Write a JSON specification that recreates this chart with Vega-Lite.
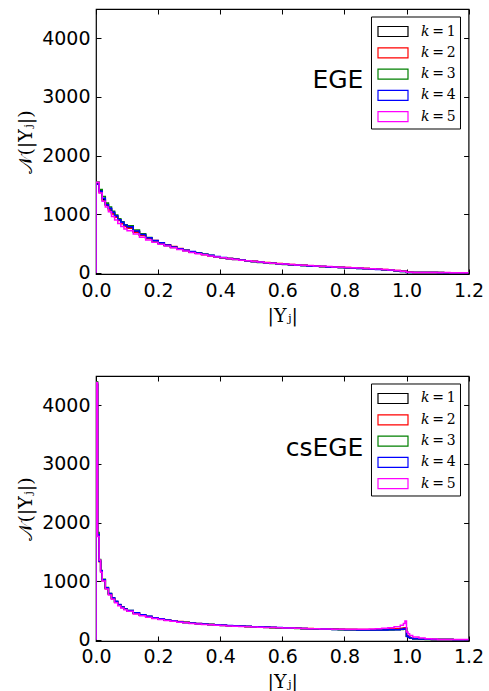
{
  "$schema": "https://vega.github.io/schema/vega-lite/v6.json",
  "padding": {"left": 16, "top": 7, "right": 5, "bottom": 5},
  "background": "white",
  "bounds": "flush",
  "spacing": 102,
  "config": {
    "view": {"stroke": "black", "strokeWidth": 1.2},
    "axis": {
      "domain": false, "grid": false, "tickColor": "black", "tickSize": -5, "tickWidth": 1,
      "labelFont": "DejaVu Sans", "labelFontSize": 19, "labelColor": "black", "labelPadding": 11,
      "labelOverlap": false, "labelFlush": false,
      "titleFont": "DejaVu Serif", "titleFontSize": 19, "titleFontWeight": "normal", "titleColor": "black", "titlePadding": 6
    },
    "axisBottom": {"labelPadding": 12},
    "legend": {
      "orient": "none", "legendX": 275, "legendY": 7.5,
      "strokeColor": "black", "fillColor": "white", "padding": 4,
      "symbolType": "M-0.8,-0.5H2.2V0.5H-0.8Z", "symbolSize": 400, "symbolStrokeWidth": 1.2,
      "symbolFillColor": "transparent", "labelFont": "DejaVu Serif", "labelFontSize": 14,
      "labelColor": "black", "labelOffset": 24, "rowPadding": 2.3
    }
  },
  "datasets": {
    "ege": [
      {"x": 0, "k1": 0, "k2": 0, "k3": 0, "k4": 0, "k5": 0},
      {"x": 0.0, "k1": 1520, "k2": 1535, "k3": 1550, "k4": 1510, "k5": 1545},
      {"x": 0.01, "k1": 1400, "k2": 1370, "k3": 1420, "k4": 1390, "k5": 1360},
      {"x": 0.02, "k1": 1250, "k2": 1230, "k3": 1300, "k4": 1270, "k5": 1220},
      {"x": 0.03, "k1": 1170, "k2": 1150, "k3": 1190, "k4": 1160, "k5": 1120},
      {"x": 0.04, "k1": 1090, "k2": 1070, "k3": 1120, "k4": 1100, "k5": 1040},
      {"x": 0.05, "k1": 1020, "k2": 1000, "k3": 1050, "k4": 1030, "k5": 960},
      {"x": 0.06, "k1": 960, "k2": 945, "k3": 985, "k4": 970, "k5": 900},
      {"x": 0.07, "k1": 900, "k2": 890, "k3": 920, "k4": 905, "k5": 840},
      {"x": 0.08, "k1": 850, "k2": 835, "k3": 870, "k4": 860, "k5": 790},
      {"x": 0.09, "k1": 805, "k2": 790, "k3": 820, "k4": 815, "k5": 745},
      {"x": 0.10, "k1": 770, "k2": 760, "k3": 800, "k4": 785, "k5": 715},
      {"x": 0.12, "k1": 700, "k2": 690, "k3": 730, "k4": 710, "k5": 660},
      {"x": 0.14, "k1": 640, "k2": 635, "k3": 665, "k4": 650, "k5": 605},
      {"x": 0.16, "k1": 590, "k2": 585, "k3": 600, "k4": 595, "k5": 560},
      {"x": 0.18, "k1": 545, "k2": 548, "k3": 535, "k4": 550, "k5": 520},
      {"x": 0.20, "k1": 505, "k2": 510, "k3": 495, "k4": 512, "k5": 485},
      {"x": 0.22, "k1": 470, "k2": 478, "k3": 462, "k4": 475, "k5": 455},
      {"x": 0.24, "k1": 437, "k2": 446, "k3": 430, "k4": 440, "k5": 425},
      {"x": 0.26, "k1": 407, "k2": 415, "k3": 402, "k4": 410, "k5": 396},
      {"x": 0.28, "k1": 380, "k2": 385, "k3": 377, "k4": 383, "k5": 370},
      {"x": 0.30, "k1": 355, "k2": 352, "k3": 357, "k4": 360, "k5": 346},
      {"x": 0.32, "k1": 332, "k2": 330, "k3": 335, "k4": 338, "k5": 325},
      {"x": 0.34, "k1": 311, "k2": 309, "k3": 313, "k4": 316, "k5": 305},
      {"x": 0.36, "k1": 292, "k2": 290, "k3": 294, "k4": 296, "k5": 287},
      {"x": 0.38, "k1": 274, "k2": 272, "k3": 270, "k4": 278, "k5": 270},
      {"x": 0.40, "k1": 257, "k2": 255, "k3": 253, "k4": 260, "k5": 254},
      {"x": 0.42, "k1": 242, "k2": 244, "k3": 240, "k4": 244, "k5": 239},
      {"x": 0.44, "k1": 228, "k2": 230, "k3": 226, "k4": 230, "k5": 226},
      {"x": 0.46, "k1": 215, "k2": 218, "k3": 213, "k4": 216, "k5": 214},
      {"x": 0.48, "k1": 203, "k2": 206, "k3": 200, "k4": 204, "k5": 202},
      {"x": 0.50, "k1": 191, "k2": 194, "k3": 188, "k4": 192, "k5": 193},
      {"x": 0.52, "k1": 180, "k2": 184, "k3": 176, "k4": 181, "k5": 183},
      {"x": 0.54, "k1": 170, "k2": 173, "k3": 166, "k4": 170, "k5": 172},
      {"x": 0.56, "k1": 161, "k2": 165, "k3": 158, "k4": 160, "k5": 163},
      {"x": 0.58, "k1": 153, "k2": 156, "k3": 150, "k4": 151, "k5": 155},
      {"x": 0.60, "k1": 145, "k2": 147, "k3": 142, "k4": 143, "k5": 147},
      {"x": 0.62, "k1": 138, "k2": 140, "k3": 135, "k4": 136, "k5": 140},
      {"x": 0.64, "k1": 131, "k2": 133, "k3": 128, "k4": 129, "k5": 133},
      {"x": 0.66, "k1": 124, "k2": 126, "k3": 122, "k4": 122, "k5": 127},
      {"x": 0.68, "k1": 118, "k2": 120, "k3": 116, "k4": 116, "k5": 121},
      {"x": 0.70, "k1": 112, "k2": 113, "k3": 110, "k4": 110, "k5": 115},
      {"x": 0.72, "k1": 106, "k2": 107, "k3": 104, "k4": 104, "k5": 109},
      {"x": 0.74, "k1": 101, "k2": 102, "k3": 99, "k4": 99, "k5": 104},
      {"x": 0.76, "k1": 96, "k2": 97, "k3": 94, "k4": 94, "k5": 99},
      {"x": 0.78, "k1": 91, "k2": 92, "k3": 89, "k4": 89, "k5": 94},
      {"x": 0.80, "k1": 86, "k2": 87, "k3": 84, "k4": 84, "k5": 89},
      {"x": 0.82, "k1": 81, "k2": 82, "k3": 79, "k4": 79, "k5": 84},
      {"x": 0.84, "k1": 76, "k2": 77, "k3": 74, "k4": 74, "k5": 79},
      {"x": 0.86, "k1": 71, "k2": 72, "k3": 69, "k4": 68, "k5": 74},
      {"x": 0.88, "k1": 65, "k2": 66, "k3": 63, "k4": 62, "k5": 68},
      {"x": 0.90, "k1": 59, "k2": 60, "k3": 57, "k4": 56, "k5": 62},
      {"x": 0.92, "k1": 52, "k2": 53, "k3": 50, "k4": 49, "k5": 55},
      {"x": 0.94, "k1": 44, "k2": 45, "k3": 42, "k4": 41, "k5": 46},
      {"x": 0.96, "k1": 35, "k2": 36, "k3": 33, "k4": 32, "k5": 37},
      {"x": 0.98, "k1": 23, "k2": 24, "k3": 22, "k4": 21, "k5": 25},
      {"x": 1.00, "k1": 6, "k2": 6, "k3": 5, "k4": 5, "k5": 7},
      {"x": 1.02, "k1": 4, "k2": 4, "k3": 3, "k4": 4, "k5": 5},
      {"x": 1.04, "k1": 3, "k2": 3, "k3": 3, "k4": 3, "k5": 4},
      {"x": 1.06, "k1": 3, "k2": 2, "k3": 2, "k4": 3, "k5": 3},
      {"x": 1.08, "k1": 2, "k2": 2, "k3": 2, "k4": 2, "k5": 3},
      {"x": 1.10, "k1": 2, "k2": 1, "k3": 2, "k4": 1, "k5": 2},
      {"x": 1.12, "k1": 1, "k2": 1, "k3": 1, "k4": 1, "k5": 2},
      {"x": 1.14, "k1": 1, "k2": 1, "k3": 1, "k4": 1, "k5": 1},
      {"x": 1.16, "k1": 1, "k2": 1, "k3": 1, "k4": 1, "k5": 1},
      {"x": 1.18, "k1": 1, "k2": 0, "k3": 1, "k4": 0, "k5": 1},
      {"x": 1.20, "k1": 0, "k2": 0, "k3": 0, "k4": 0, "k5": 0}
    ],
    "csege": [
      {"x": 0, "k1": 0, "k2": 0, "k3": 0, "k4": 0, "k5": 0},
      {"x": 0.0, "k1": 4380, "k2": 4350, "k3": 4400, "k4": 4360, "k5": 4390},
      {"x": 0.005, "k1": 1800, "k2": 1780, "k3": 1830, "k4": 1790, "k5": 1760},
      {"x": 0.01, "k1": 1350, "k2": 1330, "k3": 1370, "k4": 1340, "k5": 1360},
      {"x": 0.015, "k1": 1170, "k2": 1160, "k3": 1180, "k4": 1175, "k5": 1150},
      {"x": 0.02, "k1": 1020, "k2": 1010, "k3": 1030, "k4": 1025, "k5": 1000},
      {"x": 0.03, "k1": 880, "k2": 870, "k3": 890, "k4": 885, "k5": 865},
      {"x": 0.04, "k1": 780, "k2": 775, "k3": 790, "k4": 790, "k5": 765},
      {"x": 0.05, "k1": 700, "k2": 705, "k3": 710, "k4": 715, "k5": 690},
      {"x": 0.06, "k1": 640, "k2": 645, "k3": 650, "k4": 655, "k5": 630},
      {"x": 0.07, "k1": 590, "k2": 595, "k3": 598, "k4": 600, "k5": 580},
      {"x": 0.08, "k1": 550, "k2": 552, "k3": 556, "k4": 560, "k5": 542},
      {"x": 0.09, "k1": 520, "k2": 518, "k3": 524, "k4": 526, "k5": 510},
      {"x": 0.10, "k1": 495, "k2": 490, "k3": 498, "k4": 500, "k5": 485},
      {"x": 0.12, "k1": 450, "k2": 448, "k3": 455, "k4": 458, "k5": 440},
      {"x": 0.14, "k1": 420, "k2": 418, "k3": 423, "k4": 428, "k5": 410},
      {"x": 0.16, "k1": 395, "k2": 392, "k3": 398, "k4": 400, "k5": 385},
      {"x": 0.18, "k1": 370, "k2": 368, "k3": 372, "k4": 376, "k5": 362},
      {"x": 0.20, "k1": 350, "k2": 352, "k3": 352, "k4": 356, "k5": 343},
      {"x": 0.22, "k1": 335, "k2": 338, "k3": 336, "k4": 338, "k5": 328},
      {"x": 0.24, "k1": 320, "k2": 324, "k3": 322, "k4": 322, "k5": 314},
      {"x": 0.26, "k1": 305, "k2": 310, "k3": 308, "k4": 307, "k5": 300},
      {"x": 0.28, "k1": 292, "k2": 296, "k3": 295, "k4": 295, "k5": 288},
      {"x": 0.30, "k1": 280, "k2": 284, "k3": 283, "k4": 283, "k5": 277},
      {"x": 0.32, "k1": 272, "k2": 276, "k3": 274, "k4": 275, "k5": 268},
      {"x": 0.34, "k1": 265, "k2": 268, "k3": 266, "k4": 268, "k5": 261},
      {"x": 0.36, "k1": 258, "k2": 260, "k3": 258, "k4": 261, "k5": 254},
      {"x": 0.38, "k1": 250, "k2": 253, "k3": 251, "k4": 255, "k5": 247},
      {"x": 0.40, "k1": 244, "k2": 246, "k3": 245, "k4": 249, "k5": 241},
      {"x": 0.42, "k1": 238, "k2": 240, "k3": 239, "k4": 243, "k5": 236},
      {"x": 0.44, "k1": 233, "k2": 235, "k3": 233, "k4": 238, "k5": 231},
      {"x": 0.46, "k1": 228, "k2": 230, "k3": 228, "k4": 233, "k5": 226},
      {"x": 0.48, "k1": 224, "k2": 226, "k3": 223, "k4": 228, "k5": 222},
      {"x": 0.50, "k1": 220, "k2": 222, "k3": 218, "k4": 223, "k5": 218},
      {"x": 0.52, "k1": 215, "k2": 218, "k3": 213, "k4": 219, "k5": 214},
      {"x": 0.54, "k1": 211, "k2": 214, "k3": 209, "k4": 215, "k5": 210},
      {"x": 0.56, "k1": 207, "k2": 210, "k3": 205, "k4": 211, "k5": 207},
      {"x": 0.58, "k1": 204, "k2": 206, "k3": 201, "k4": 207, "k5": 204},
      {"x": 0.60, "k1": 200, "k2": 202, "k3": 198, "k4": 203, "k5": 201},
      {"x": 0.62, "k1": 197, "k2": 199, "k3": 195, "k4": 199, "k5": 198},
      {"x": 0.64, "k1": 194, "k2": 196, "k3": 192, "k4": 196, "k5": 195},
      {"x": 0.66, "k1": 191, "k2": 193, "k3": 189, "k4": 192, "k5": 192},
      {"x": 0.68, "k1": 188, "k2": 190, "k3": 186, "k4": 188, "k5": 189},
      {"x": 0.70, "k1": 185, "k2": 187, "k3": 183, "k4": 185, "k5": 186},
      {"x": 0.72, "k1": 182, "k2": 184, "k3": 180, "k4": 182, "k5": 183},
      {"x": 0.74, "k1": 180, "k2": 181, "k3": 177, "k4": 179, "k5": 181},
      {"x": 0.76, "k1": 178, "k2": 179, "k3": 174, "k4": 176, "k5": 179},
      {"x": 0.78, "k1": 176, "k2": 177, "k3": 172, "k4": 173, "k5": 178},
      {"x": 0.80, "k1": 174, "k2": 175, "k3": 170, "k4": 171, "k5": 177},
      {"x": 0.82, "k1": 173, "k2": 174, "k3": 168, "k4": 169, "k5": 177},
      {"x": 0.84, "k1": 172, "k2": 173, "k3": 166, "k4": 167, "k5": 178},
      {"x": 0.86, "k1": 172, "k2": 173, "k3": 165, "k4": 166, "k5": 180},
      {"x": 0.88, "k1": 172, "k2": 174, "k3": 164, "k4": 165, "k5": 183},
      {"x": 0.90, "k1": 173, "k2": 176, "k3": 164, "k4": 165, "k5": 188},
      {"x": 0.92, "k1": 175, "k2": 178, "k3": 165, "k4": 166, "k5": 195},
      {"x": 0.94, "k1": 178, "k2": 181, "k3": 167, "k4": 168, "k5": 205},
      {"x": 0.96, "k1": 183, "k2": 186, "k3": 170, "k4": 172, "k5": 220},
      {"x": 0.98, "k1": 190, "k2": 193, "k3": 175, "k4": 178, "k5": 245},
      {"x": 0.99, "k1": 195, "k2": 198, "k3": 180, "k4": 185, "k5": 275},
      {"x": 0.995, "k1": 200, "k2": 203, "k3": 185, "k4": 190, "k5": 320},
      {"x": 1.0, "k1": 60, "k2": 62, "k3": 55, "k4": 58, "k5": 130},
      {"x": 1.005, "k1": 45, "k2": 46, "k3": 42, "k4": 44, "k5": 100},
      {"x": 1.01, "k1": 30, "k2": 32, "k3": 28, "k4": 30, "k5": 72},
      {"x": 1.02, "k1": 18, "k2": 19, "k3": 17, "k4": 18, "k5": 46},
      {"x": 1.04, "k1": 10, "k2": 11, "k3": 9, "k4": 10, "k5": 28},
      {"x": 1.06, "k1": 6, "k2": 6, "k3": 5, "k4": 6, "k5": 17},
      {"x": 1.08, "k1": 4, "k2": 4, "k3": 3, "k4": 4, "k5": 10},
      {"x": 1.10, "k1": 2, "k2": 2, "k3": 2, "k4": 2, "k5": 5},
      {"x": 1.15, "k1": 1, "k2": 1, "k3": 1, "k4": 1, "k5": 2},
      {"x": 1.20, "k1": 0, "k2": 0, "k3": 0, "k4": 0, "k5": 0}
    ]
  },
  "resolve": {"legend": {"color": "independent"}},
  "vconcat": [
    {
      "width": 372.6, "height": 265,
      "resolve": {"axis": {"x": "independent", "y": "independent"}},
      "layer": [
        {
          "data": {"name": "ege"},
          "transform": [{"fold": ["k1", "k2", "k3", "k4", "k5"], "as": ["series", "count"]}],
          "mark": {"type": "line", "interpolate": "step-after", "strokeWidth": 1.5, "clip": true},
          "encoding": {
            "x": {"field": "x", "type": "quantitative", "scale": {"domain": [0, 1.2], "nice": false},
                  "axis": {"orient": "bottom", "values": [0, 0.2, 0.4, 0.6, 0.8, 1.0, 1.2], "format": ".1f", "title": "|Υⱼ|"}},
            "y": {"field": "count", "type": "quantitative", "scale": {"domain": [-22, 4500], "nice": false},
                  "axis": {"orient": "left", "values": [0, 1000, 2000, 3000, 4000], "format": "d", "title": "𝒩(|Υⱼ|)"}},
            "color": {"field": "series", "type": "nominal",
                      "scale": {"domain": ["k1", "k2", "k3", "k4", "k5"], "range": ["#000000", "#ff0000", "#008000", "#0000ff", "#ff00ff"]},
                      "legend": {"title": null, "labelExpr": "'𝑘\u2009=\u2009' + slice(datum.label, 1)"}}
          }
        },
        {
          "data": {"values": [{"x": 0.861, "y": 3288, "label": "EGE"}]},
          "mark": {"type": "text", "align": "right", "baseline": "middle", "font": "DejaVu Sans", "fontSize": 25, "color": "black"},
          "encoding": {
            "x": {"field": "x", "type": "quantitative", "scale": {"domain": [0, 1.2], "nice": false},
                  "axis": {"orient": "top", "values": [0, 0.2, 0.4, 0.6, 0.8, 1.0, 1.2], "labels": false, "title": null}},
            "y": {"field": "y", "type": "quantitative", "scale": {"domain": [-22, 4500], "nice": false},
                  "axis": {"orient": "right", "values": [0, 1000, 2000, 3000, 4000], "labels": false, "title": null}},
            "text": {"field": "label"}
          }
        }
      ]
    },
    {
      "width": 372.6, "height": 265,
      "resolve": {"axis": {"x": "independent", "y": "independent"}},
      "layer": [
        {
          "data": {"name": "csege"},
          "transform": [{"fold": ["k1", "k2", "k3", "k4", "k5"], "as": ["series", "count"]}],
          "mark": {"type": "line", "interpolate": "step-after", "strokeWidth": 1.5, "clip": true},
          "encoding": {
            "x": {"field": "x", "type": "quantitative", "scale": {"domain": [0, 1.2], "nice": false},
                  "axis": {"orient": "bottom", "values": [0, 0.2, 0.4, 0.6, 0.8, 1.0, 1.2], "format": ".1f", "title": "|Υⱼ|"}},
            "y": {"field": "count", "type": "quantitative", "scale": {"domain": [-22, 4500], "nice": false},
                  "axis": {"orient": "left", "values": [0, 1000, 2000, 3000, 4000], "format": "d", "title": "𝒩(|Υⱼ|)"}},
            "color": {"field": "series", "type": "nominal",
                      "scale": {"domain": ["k1", "k2", "k3", "k4", "k5"], "range": ["#000000", "#ff0000", "#008000", "#0000ff", "#ff00ff"]},
                      "legend": {"title": null, "labelExpr": "'𝑘\u2009=\u2009' + slice(datum.label, 1)"}}
          }
        },
        {
          "data": {"values": [{"x": 0.861, "y": 3270, "label": "csEGE"}]},
          "mark": {"type": "text", "align": "right", "baseline": "middle", "font": "DejaVu Sans", "fontSize": 25, "color": "black"},
          "encoding": {
            "x": {"field": "x", "type": "quantitative", "scale": {"domain": [0, 1.2], "nice": false},
                  "axis": {"orient": "top", "values": [0, 0.2, 0.4, 0.6, 0.8, 1.0, 1.2], "labels": false, "title": null}},
            "y": {"field": "y", "type": "quantitative", "scale": {"domain": [-22, 4500], "nice": false},
                  "axis": {"orient": "right", "values": [0, 1000, 2000, 3000, 4000], "labels": false, "title": null}},
            "text": {"field": "label"}
          }
        }
      ]
    }
  ]
}
